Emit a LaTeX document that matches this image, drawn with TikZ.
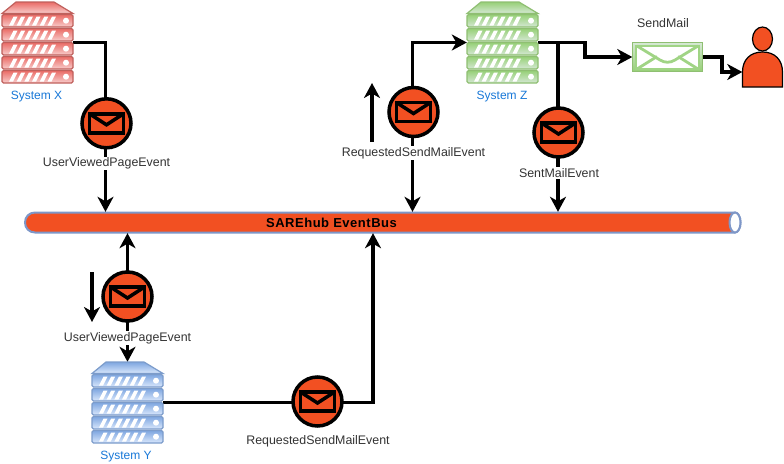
\documentclass[tikz,border=0pt]{standalone}
\usepackage{fontspec}
\setmainfont{Liberation Sans}
\usetikzlibrary{arrows.meta,calc,shapes.geometric}
\definecolor{msgfill}{HTML}{F25022}
\definecolor{labeltxt}{HTML}{333333}
\definecolor{sysblue}{HTML}{1878D8}
\definecolor{busline}{HTML}{7E97C8}
\definecolor{rlight}{HTML}{F8CECC}\definecolor{rdark}{HTML}{EA6B66}\definecolor{rstroke}{HTML}{C0605C}
\definecolor{blight}{HTML}{DAE8FC}\definecolor{bdark}{HTML}{7EA6E0}\definecolor{bstroke}{HTML}{7C9CCB}
\definecolor{glight}{HTML}{D5E8D4}\definecolor{gdark}{HTML}{97D077}\definecolor{gstroke}{HTML}{8FBF72}
\tikzset{
  wire/.style={line width=3.5pt,draw=black,line join=miter},
  tip/.style={-{Stealth[length=15pt,width=16pt,inset=4.5pt]}},
  bothtip/.style={{Stealth[length=15pt,width=16pt,inset=4.5pt]}-{Stealth[length=15pt,width=16pt,inset=4.5pt]}},
  msg/.style={circle,draw=black,line width=3.5pt,fill=msgfill,minimum size=49pt,inner sep=0pt},
  evlabel/.style={fill=white,inner sep=1pt,text=labeltxt,font=\fontsize{12.4}{14}\selectfont},
  syslabel/.style={inner sep=0pt,text=sysblue,font=\fontsize{12}{14}\selectfont},
  srvbox/.style={minimum width=71pt,minimum height=81pt,inner sep=0pt},
}
% name, centre x, centre y, light, dark, stroke
\newcommand{\srv}[6]{%
  \begin{scope}[shift={(#2-35.5,#3-40.5)}]
    \draw[draw=#6,line width=1.2pt,top color=#5,bottom color=#4] (0,11.5) -- (14,0) -- (52,0) -- (71,11.5) -- cycle;
    \foreach \yy in {12.5,26.5,40.5,54.5,68.5}{
      \draw[draw=#6,line width=1.2pt,rounded corners=1.5pt,top color=#5,bottom color=#4] (0,\yy) rectangle (71,\yy+12.5);
      \foreach \xx in {0,...,5}{
        \fill[white] ({7+\xx*7.7},\yy+11) -- ({11+\xx*7.7},\yy+11) -- ({15.5+\xx*7.7},\yy+2) -- ({11.5+\xx*7.7},\yy+2) -- cycle;
      }
      \fill[white] (64,\yy+6.2) circle (3pt);
    }
  \end{scope}
}
% circle node with envelope: name, x, y
\newcommand{\msgnode}[3]{%
  \node[msg] (#1) at (#2,#3) {};
  \draw[line width=3.5pt,draw=black,line join=miter] ($(#1.center)+(-17,-9.5)$) rectangle ($(#1.center)+(17,9.5)$);
  \draw[line width=3.5pt,draw=black,line join=miter] ($(#1.center)+(-17,-9.5)$) -- ($(#1.center)+(0,1.5)$) -- ($(#1.center)+(17,-9.5)$);
}
\begin{document}
\begin{tikzpicture}[x=1pt,y=-1pt]
\useasboundingbox (0,0) rectangle (784,463);
\fill[white] (0,0) rectangle (784,463);

% anchors of nodes
\node[srvbox] (sxa) at (37.5,42.5) {};
\node[srvbox] (sya) at (127.5,402.5) {};
\node[srvbox] (sza) at (502.5,42.5) {};
\node[minimum width=715pt,minimum height=21pt,inner sep=0pt] (bus) at (382.5,222.5) {};
\node[minimum width=70pt,minimum height=28pt,inner sep=0pt] (mail) at (667.5,57) {};
\node[minimum width=41pt,minimum height=30pt,inner sep=0pt] (person) at (763,72) {};
\coordinate (w1) at (105.5,123);
\coordinate (w2) at (127.5,296);
\coordinate (w3) at (373,401);
\coordinate (w4) at (412.5,112);
\coordinate (w5) at (558,132);
\coordinate (f1a) at (92,272);
\coordinate (f1b) at (92,322);
\coordinate (f2a) at (372,142);
\coordinate (f2b) at (372,83);

% bus
\draw[draw=busline,line width=2pt,fill=msgfill,line join=round]
  (35,212.5) -- (735,212.5)
  .. controls (738,212.5) and (740.5,217) .. (740.5,222.5)
  .. controls (740.5,228) and (738,232.5) .. (735,232.5)
  -- (35,232.5)
  .. controls (29,232.5) and (25,228) .. (25,222.5)
  .. controls (25,217) and (29,212.5) .. (35,212.5) -- cycle;
\draw[draw=busline,line width=2pt,fill=white] (735,222.5) ellipse[x radius=5.5,y radius=10];
\node[inner sep=0pt,font=\fontsize{13}{14}\selectfont\bfseries\addfontfeature{LetterSpace=4},text=black] (bustxt) at (331.5,223) {SAREhub EventBus};

% connectors
\draw[wire,tip] (sxa.east) -| (bus.north -| w1);
\draw[wire,bothtip] (bus.south -| w2) -- (sya.north -| w2);
\draw[wire,tip] (sya.east) -| (bus.south -| w3);
\draw[wire,bothtip] (bus.north -| w4) |- (sza.west);
\draw[wire,tip] (sza.east -| w5) -- (bus.north -| w5);
\draw[wire] (sza.east) -- (w5 |- sza.east);
\draw[wire,tip] (sza.east) -- (585,42.5) |- (mail.west);
\draw[wire,tip] (mail.east) -- (722,57) |- (person.west);
\draw[wire,tip] (f1a) -- (f1b);
\draw[wire,tip] (f2a) -- (f2b);

% servers
\srv{sx}{37.5}{42.5}{rlight}{rdark}{rstroke}
\srv{sy}{127.5}{402.5}{blight}{bdark}{bstroke}
\srv{sz}{502.5}{42.5}{glight}{gdark}{gstroke}
\node[syslabel] (lx) at (36.5,97) {System X};
\node[syslabel] (ly) at (126,457) {System Y};
\node[syslabel] (lz) at (502,97) {System Z};

% messages
\msgnode{m1}{106.5}{123.3}
\msgnode{m2}{127.5}{296.5}
\msgnode{m3}{317.5}{401.5}
\msgnode{m4}{413.5}{112}
\msgnode{m5}{558.5}{132.5}

% labels
\node[evlabel] (t1) at (106.5,163.5) {UserViewedPageEvent};
\node[evlabel] (t2) at (127.5,338) {UserViewedPageEvent};
\node[evlabel] (t3) at (318,441.5) {RequestedSendMailEvent};
\node[evlabel] (t4) at (413.5,153) {RequestedSendMailEvent};
\node[evlabel] (t5) at (559,173) {SentMailEvent};
\node[inner sep=0pt,text=labeltxt,font=\fontsize{12.4}{14}\selectfont] (t6) at (663,23) {SendMail};

% mail icon
\draw[draw=gstroke,line width=1pt,top color=glight,bottom color=gdark] (mail.north west) rectangle (mail.south east);
\fill[white] (637,46.5) rectangle (698,68);
\draw[draw=gdark!85!glight,line width=2.8pt,line cap=butt] (637,46) -- (660,60) .. controls (665,63) and (670,63) .. (675,60) -- (698,46);
\draw[draw=gdark!85!glight,line width=2.8pt] (637,69) -- (657,56.5);
\draw[draw=gdark!85!glight,line width=2.8pt] (698,69) -- (678,56.5);
\draw[draw=gdark!85!glight,line width=1.5pt] (635,46) -- (700,46);
\draw[draw=gdark!85!glight,line width=1.5pt] (635,69) -- (700,69);
\draw[draw=gdark!85!glight,line width=1.5pt] (636,45) -- (636,70) (699,45) -- (699,70);

% person
\draw[draw=black,line width=1.2pt,fill=msgfill] (742.5,87) -- (742.5,72) .. controls (742.5,60) and (750,52) .. (762.5,52) .. controls (775,52) and (782.5,60) .. (782.5,72) -- (782.5,87) -- cycle;
\draw[draw=black,line width=1.2pt,fill=msgfill] (762.5,39) ellipse[x radius=10,y radius=12];
\end{tikzpicture}
\end{document}
